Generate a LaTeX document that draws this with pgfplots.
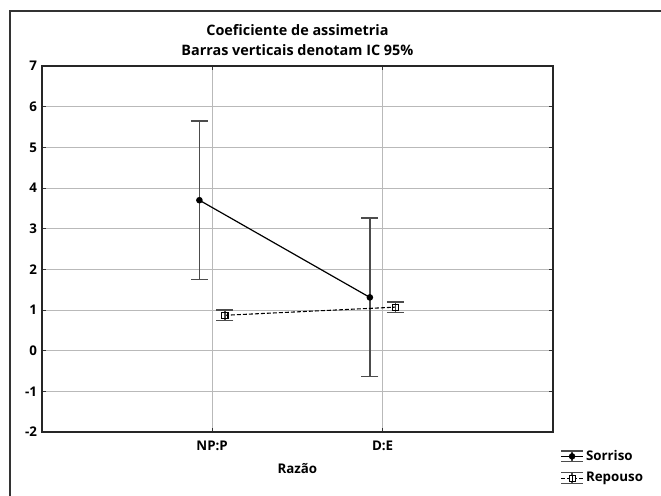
\documentclass[border=0pt]{standalone}
\usepackage{fontspec}
\setmainfont{Open Sans}
\usepackage{pgfplots}
\pgfplotsset{compat=1.18}
\definecolor{ebar}{gray}{0.3}
\newcommand{\ff}{\bfseries\fontsize{10}{12}\selectfont}
\begin{document}
\begin{tikzpicture}
\useasboundingbox (0,0) rectangle (495.75pt,372pt);
\draw[line width=1.3pt, gray!40!black] (7.5pt,0pt) -- (7.5pt,363.75pt) -- (495.75pt,363.75pt);
\begin{axis}[
  at={(31.3pt,48pt)}, anchor=south west,
  scale only axis, width=383.5pt, height=274.5pt,
  xmin=0, xmax=3, ymin=-2, ymax=7,
  xtick={1,2}, xticklabels={NP:P,D:E},
  ytick={-2,-1,0,1,2,3,4,5,6,7},
  grid=major, major grid style={gray!55, line width=0.6pt},
  axis line style={line width=1.4pt, gray!30!black},
  tick style={gray!40!black, line width=0.6pt}, major tick length=3pt, tick align=inside,
  /pgf/number format/assume math mode=true,
  ticklabel style={font=\ff},
  xticklabel style={yshift=-3pt},
  title={Coeficiente de assimetria\\Barras verticais denotam IC 95\%},
  title style={align=center, font=\bfseries\fontsize{10.8}{15.5}\selectfont, anchor=south, yshift=-2pt},
  xlabel={Razão}, xlabel style={font=\ff, yshift=-3pt},
]
\addplot[black, line width=0.9pt, mark=*, mark size=2pt,
  error bars/.cd, y dir=both, y explicit,
  error bar style={ebar, line width=1pt},
  error mark options={ebar, line width=1pt, mark size=6.4pt, rotate=90}]
  coordinates {(0.925,3.70) +- (0,1.95) (1.925,1.31) +- (0,1.95)};
\addplot[black, dash pattern=on 3pt off 1.5pt, line width=0.8pt, mark=square, mark size=2.3pt, mark options={solid},
  error bars/.cd, y dir=both, y explicit,
  error bar style={ebar, line width=1pt, solid},
  error mark options={ebar, line width=1pt, mark size=6.4pt, rotate=90, solid},
  ]
  coordinates {(1.075,0.87) +- (0,0.13) (2.075,1.07) +- (0,0.13)};
\end{axis}
\begin{axis}[
  at={(31.3pt,48pt)}, anchor=south west,
  scale only axis, width=383.5pt, height=274.5pt,
  xmin=0, xmax=3, ymin=-2, ymax=7, hide axis,
  legend style={at={(1.012,-0.096)}, anchor=west, draw=none, fill=none,
    font=\ff, row sep=3.5pt, inner sep=1pt},
  legend cell align=left,
]
\addlegendimage{legend image code/.code={
  \draw[ebar, line width=0.9pt] (0pt,4pt)--(16pt,4pt) (0pt,-4pt)--(16pt,-4pt) (8pt,-4pt)--(8pt,4pt);
  \draw[black, line width=0.9pt, solid] (0pt,0pt)--(16pt,0pt);
  \fill[black] (8pt,0pt) circle (2.2pt);}}
\addlegendentry{Sorriso}
\addlegendimage{legend image code/.code={
  \draw[ebar, line width=0.9pt, solid] (0pt,4pt)--(16pt,4pt) (0pt,-4pt)--(16pt,-4pt) (8pt,-4pt)--(8pt,4pt);
  \draw[black, line width=0.9pt, dash pattern=on 3pt off 1.5pt] (0pt,0pt)--(16pt,0pt);
  \draw[black, line width=0.7pt, solid, fill=white] (5.8pt,-2.2pt) rectangle (10.2pt,2.2pt);
  \draw[black, line width=0.7pt, solid] (8pt,-2.2pt)--(8pt,2.2pt);}}
\addlegendentry{Repouso}
\end{axis}
\end{tikzpicture}
\end{document}
